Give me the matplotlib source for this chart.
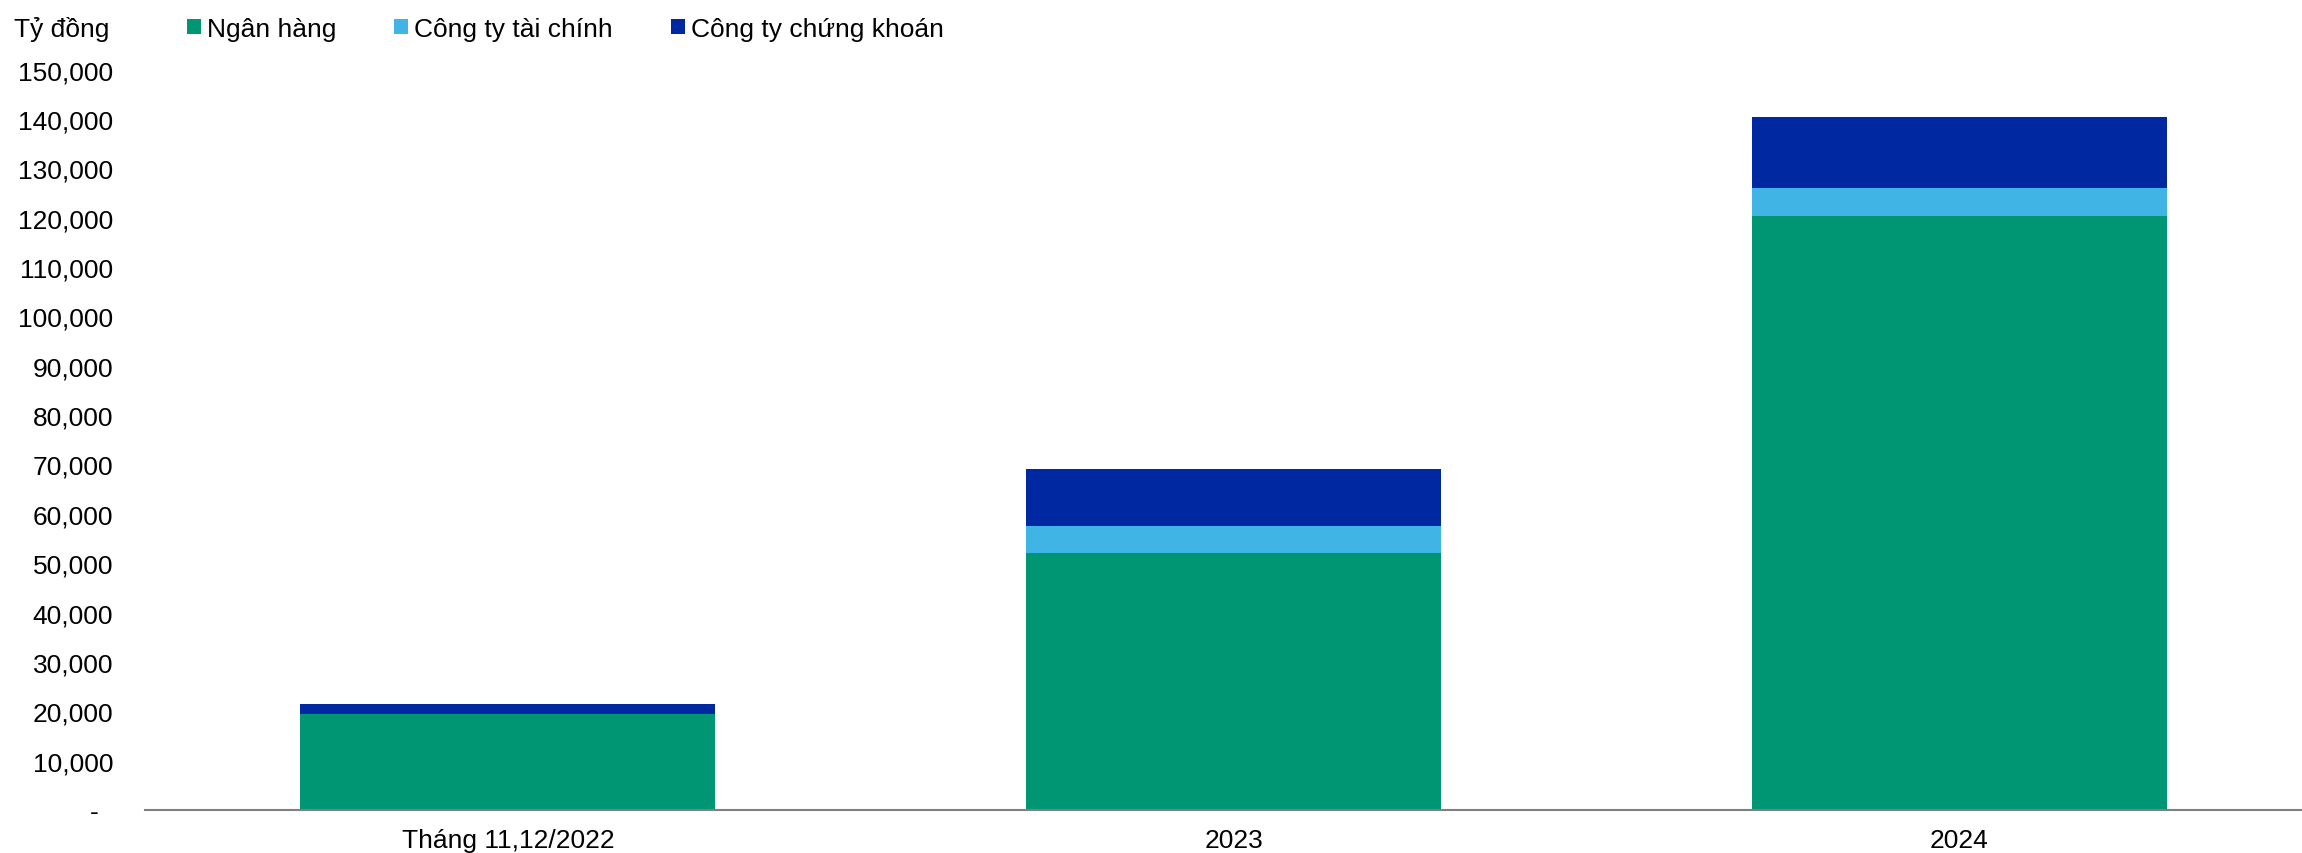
import matplotlib
matplotlib.use('Agg')
import matplotlib.pyplot as plt
from matplotlib.patches import Patch
import numpy as np

plt.rcParams['font.family'] = ['Liberation Sans', 'DejaVu Sans']

categories = ['Tháng 11,12/2022', '2023', '2024']
ngan_hang = [19500, 52100, 120400]
cong_ty_tai_chinh = [0, 5400, 5600]
cong_ty_chung_khoan = [2000, 11600, 14300]

series_names = ['Ngân hàng', 'Công ty tài chính', 'Công ty chứng khoán']
colors = ['#009673', '#41B4E6', '#0028A0']
y_ticks = list(range(0, 150001, 10000))

fig = plt.figure(figsize=(23.02, 8.54), dpi=100)
ax = fig.add_axes([0.063, 0.0504, 0.937, 0.867])

x = np.arange(len(categories))
bottom = np.zeros(len(categories))
for vals, color in zip([ngan_hang, cong_ty_tai_chinh, cong_ty_chung_khoan], colors):
    ax.bar(x, vals, bottom=bottom, width=0.572, color=color, linewidth=0)
    bottom += np.array(vals)

ax.set_xlim(-0.5, 2.472)
ax.set_ylim(0, 150000)
ax.set_yticks(y_ticks)
ax.set_yticklabels(['-  ' if v == 0 else f'{v:,}' for v in y_ticks], fontsize=19)
ax.set_xticks(x)
ax.set_xticklabels(categories, fontsize=19)
ax.tick_params(axis='y', length=0, pad=23)
ax.tick_params(axis='x', length=0, pad=13)

for s in ['top', 'right', 'left']:
    ax.spines[s].set_visible(False)
ax.spines['bottom'].set_color('#808080')
ax.spines['bottom'].set_linewidth(1.5)

fig.text(0.006, 0.965, 'Tỷ đồng', fontsize=19, va='center', ha='left')

handles = [Patch(facecolor=c, edgecolor='none') for c in colors]
fig.legend(handles, series_names, loc='center left', bbox_to_anchor=(0.0812, 0.965),
           ncol=3, frameon=False, fontsize=19, handlelength=0.53, handleheight=0.53,
           handletextpad=0.23, columnspacing=2.2, borderaxespad=0, borderpad=0)

fig.savefig('out.png', dpi=100)
